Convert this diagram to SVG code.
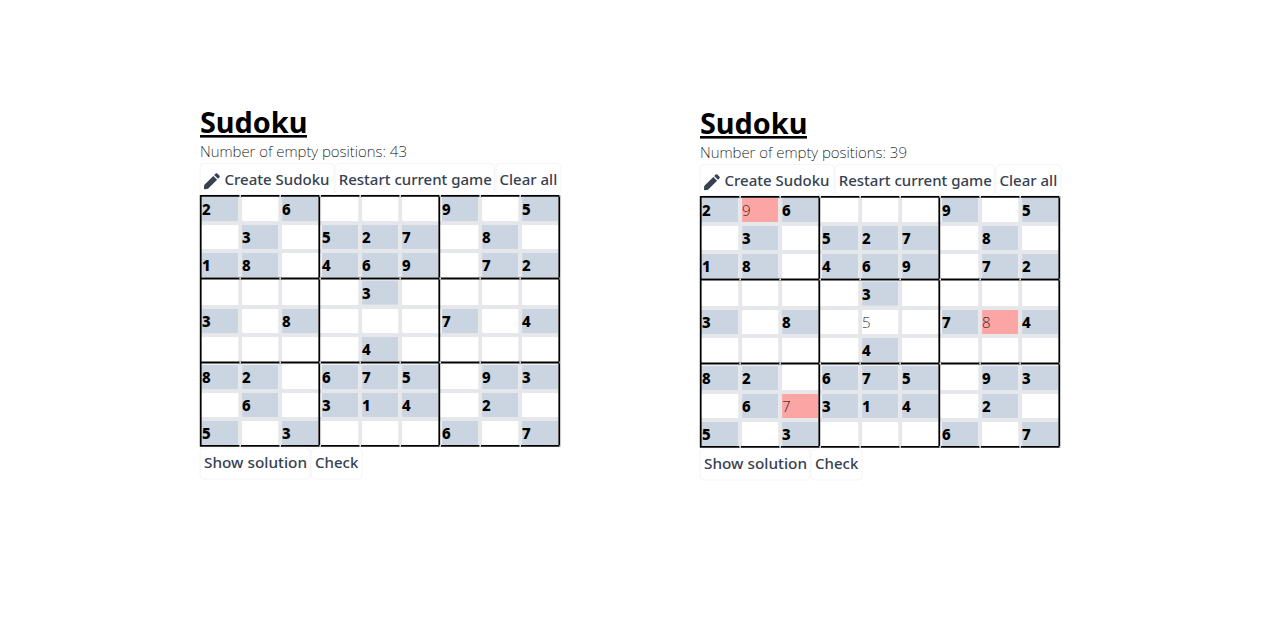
<svg xmlns="http://www.w3.org/2000/svg" width="1280" height="640" viewBox="0 0 1280 640">
<style>
text{font-family:"Noto Sans","Open Sans","Liberation Sans",sans-serif}
.t{font-size:28.8px;font-weight:700;fill:#000}
.u{fill:#000}
.s{font-size:15px;font-weight:200;fill:#000}
.b{fill:#fff;stroke:#f3f4f6;stroke-width:1}
.l{font-size:15px;font-weight:500;fill:#374151}
.c{fill:#cbd5e1;width:36.6px;height:24.4px}
rect.c[x="201"]{width:37.4px}
.r{fill:#fca5a5;width:36.6px;height:24.4px}
.d{font-size:15px;font-weight:800;fill:#000}
.e{font-size:15px;font-weight:200;fill:#000}
.g{stroke:#e5e7eb;stroke-width:3.8;fill:none}
.k{stroke:#000;stroke-width:1.8;fill:none}
.n{stroke:#e5e7eb;stroke-width:1.8;stroke-dasharray:1.6 38.4;fill:none}
</style>
<defs>
<path id="pencil" d="M0.2 12 9.3 2.9 13.1 6.7 4 15.8 0.6 16.2Q-0.1 16.2 0 15.4ZM10.2 2 11.7 0.5Q12.5-0.2 13.3 0.5L15.5 2.7Q16.2 3.5 15.5 4.3L14 5.8Z" fill="#374151"/>
<path id="grid-g" class="g" d="M240.2 196V446M280.2 196V446M360.2 196V446M400.2 196V446M480.2 196V446M520.2 196V446M200 223H560M200 251H560M200 307H560M200 335H560M200 391H560M200 419H560"/>
<path id="grid-k" class="k" d="M200.7 195.8H559.3V445.8H200.7ZM319.3 196V446M439.3 196V446M200 278.5H560M200 362.5H560"/>
<path id="grid-n" class="n" d="M239.4 195.8H560M239.4 278.5H560M239.4 362.5H560M239.4 445.8H560"/>
<g id="blues">
<rect class="c" x="201" y="196.7"/><rect class="c" x="281.7" y="196.7"/><rect class="c" x="441.7" y="196.7"/><rect class="c" x="521.7" y="196.7"/>
<rect class="c" x="241.7" y="224.7"/><rect class="c" x="321.7" y="224.7"/><rect class="c" x="361.7" y="224.7"/><rect class="c" x="401.7" y="224.7"/><rect class="c" x="481.7" y="224.7"/>
<rect class="c" x="201" y="252.7"/><rect class="c" x="241.7" y="252.7"/><rect class="c" x="321.7" y="252.7"/><rect class="c" x="361.7" y="252.7"/><rect class="c" x="401.7" y="252.7"/><rect class="c" x="481.7" y="252.7"/><rect class="c" x="521.7" y="252.7"/>
<rect class="c" x="361.7" y="280.4"/>
<rect class="c" x="201" y="308.7"/><rect class="c" x="281.7" y="308.7"/><rect class="c" x="441.7" y="308.7"/><rect class="c" x="521.7" y="308.7"/>
<rect class="c" x="361.7" y="336.7"/>
<rect class="c" x="201" y="364.7"/><rect class="c" x="241.7" y="364.7"/><rect class="c" x="321.7" y="364.7"/><rect class="c" x="361.7" y="364.7"/><rect class="c" x="401.7" y="364.7"/><rect class="c" x="481.7" y="364.7"/><rect class="c" x="521.7" y="364.7"/>
<rect class="c" x="241.7" y="392.7"/><rect class="c" x="321.7" y="392.7"/><rect class="c" x="361.7" y="392.7"/><rect class="c" x="401.7" y="392.7"/><rect class="c" x="481.7" y="392.7"/>
<rect class="c" x="201" y="420.7"/><rect class="c" x="281.7" y="420.7"/><rect class="c" x="441.7" y="420.7"/><rect class="c" x="521.7" y="420.7"/>
</g>
</defs>
<rect width="1280" height="640" fill="#fff"/>

<g id="game-left">
<text class="t" x="200" y="132.5">Sudoku</text><rect class="u" x="200" y="135" width="107" height="2.6"/>
<text class="s" x="200" y="156.8" textLength="207" lengthAdjust="spacingAndGlyphs">Number of empty positions: 43</text>
<g id="left-buttons">
<rect class="b" x="200" y="163.5" width="134" height="31" rx="4"/><use href="#pencil" x="204" y="173"/><text class="l" x="224.5" y="185">Create Sudoku</text>
<rect class="b" x="335" y="163.5" width="159.5" height="31" rx="4"/><text class="l" x="338.7" y="185">Restart current game</text>
<rect class="b" x="496" y="163.5" width="65" height="31" rx="4"/><text class="l" x="499.5" y="185">Clear all</text>
<rect class="b" x="200" y="448" width="110" height="31" rx="4"/><text class="l" x="204" y="468.3" textLength="103" lengthAdjust="spacingAndGlyphs">Show solution</text>
<rect class="b" x="311" y="448" width="51" height="31" rx="4"/><text class="l" x="315" y="468.3">Check</text>
</g>
<g id="left-board">
<use href="#blues"/><use href="#grid-g"/><use href="#grid-k"/><use href="#grid-n"/>
<text class="d" x="202" y="214.8">2</text><text class="d" x="282" y="214.8">6</text><text class="d" x="442" y="214.8">9</text><text class="d" x="522" y="214.8">5</text>
<text class="d" x="242" y="242.8">3</text><text class="d" x="322" y="242.8">5</text><text class="d" x="362" y="242.8">2</text><text class="d" x="402" y="242.8">7</text><text class="d" x="482" y="242.8">8</text>
<text class="d" x="202" y="270.8">1</text><text class="d" x="242" y="270.8">8</text><text class="d" x="322" y="270.8">4</text><text class="d" x="362" y="270.8">6</text><text class="d" x="402" y="270.8">9</text><text class="d" x="482" y="270.8">7</text><text class="d" x="522" y="270.8">2</text>
<text class="d" x="362" y="298.8">3</text>
<text class="d" x="202" y="326.8">3</text><text class="d" x="282" y="326.8">8</text><text class="d" x="442" y="326.8">7</text><text class="d" x="522" y="326.8">4</text>
<text class="d" x="362" y="354.8">4</text>
<text class="d" x="202" y="382.8">8</text><text class="d" x="242" y="382.8">2</text><text class="d" x="322" y="382.8">6</text><text class="d" x="362" y="382.8">7</text><text class="d" x="402" y="382.8">5</text><text class="d" x="482" y="382.8">9</text><text class="d" x="522" y="382.8">3</text>
<text class="d" x="242" y="410.8">6</text><text class="d" x="322" y="410.8">3</text><text class="d" x="362" y="410.8">1</text><text class="d" x="402" y="410.8">4</text><text class="d" x="482" y="410.8">2</text>
<text class="d" x="202" y="438.8">5</text><text class="d" x="282" y="438.8">3</text><text class="d" x="442" y="438.8">6</text><text class="d" x="522" y="438.8">7</text>
</g>
</g>

<g id="game-right" transform="translate(500,1)">
<text class="t" x="200" y="132.5">Sudoku</text><rect class="u" x="200" y="135" width="107" height="2.6"/>
<text class="s" x="200" y="156.8" textLength="207" lengthAdjust="spacingAndGlyphs">Number of empty positions: 39</text>
<g id="right-buttons">
<rect class="b" x="200" y="163.5" width="134" height="31" rx="4"/><use href="#pencil" x="204" y="173"/><text class="l" x="224.5" y="185">Create Sudoku</text>
<rect class="b" x="335" y="163.5" width="159.5" height="31" rx="4"/><text class="l" x="338.7" y="185">Restart current game</text>
<rect class="b" x="496" y="163.5" width="65" height="31" rx="4"/><text class="l" x="499.5" y="185">Clear all</text>
<rect class="b" x="200" y="448" width="110" height="31" rx="4"/><text class="l" x="204" y="468.3" textLength="103" lengthAdjust="spacingAndGlyphs">Show solution</text>
<rect class="b" x="311" y="448" width="51" height="31" rx="4"/><text class="l" x="315" y="468.3">Check</text>
</g>
<g id="right-board">
<use href="#blues"/>
<rect class="r" x="241.7" y="196.7"/><rect class="r" x="481.7" y="308.7"/><rect class="r" x="281.7" y="392.7"/>
<use href="#grid-g"/><use href="#grid-k"/><use href="#grid-n"/>
<text class="d" x="202" y="214.8">2</text><text class="e" x="242" y="214.8">9</text><text class="d" x="282" y="214.8">6</text><text class="d" x="442" y="214.8">9</text><text class="d" x="522" y="214.8">5</text>
<text class="d" x="242" y="242.8">3</text><text class="d" x="322" y="242.8">5</text><text class="d" x="362" y="242.8">2</text><text class="d" x="402" y="242.8">7</text><text class="d" x="482" y="242.8">8</text>
<text class="d" x="202" y="270.8">1</text><text class="d" x="242" y="270.8">8</text><text class="d" x="322" y="270.8">4</text><text class="d" x="362" y="270.8">6</text><text class="d" x="402" y="270.8">9</text><text class="d" x="482" y="270.8">7</text><text class="d" x="522" y="270.8">2</text>
<text class="d" x="362" y="298.8">3</text>
<text class="d" x="202" y="326.8">3</text><text class="d" x="282" y="326.8">8</text><text class="e" x="362" y="326.8">5</text><text class="d" x="442" y="326.8">7</text><text class="e" x="482" y="326.8">8</text><text class="d" x="522" y="326.8">4</text>
<text class="d" x="362" y="354.8">4</text>
<text class="d" x="202" y="382.8">8</text><text class="d" x="242" y="382.8">2</text><text class="d" x="322" y="382.8">6</text><text class="d" x="362" y="382.8">7</text><text class="d" x="402" y="382.8">5</text><text class="d" x="482" y="382.8">9</text><text class="d" x="522" y="382.8">3</text>
<text class="d" x="242" y="410.8">6</text><text class="e" x="282" y="410.8">7</text><text class="d" x="322" y="410.8">3</text><text class="d" x="362" y="410.8">1</text><text class="d" x="402" y="410.8">4</text><text class="d" x="482" y="410.8">2</text>
<text class="d" x="202" y="438.8">5</text><text class="d" x="282" y="438.8">3</text><text class="d" x="442" y="438.8">6</text><text class="d" x="522" y="438.8">7</text>
</g>
</g>
</svg>
